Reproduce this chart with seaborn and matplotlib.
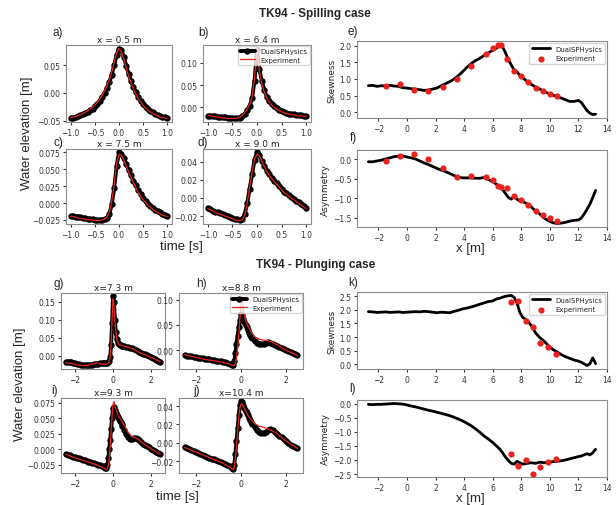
import numpy as np
import matplotlib
matplotlib.use('Agg')
import matplotlib.pyplot as plt
import seaborn as sns

# ---------------------------------------------------------------
# data
# ---------------------------------------------------------------
# spilling case, time series at 4 gauges
t_sp = np.round(np.arange(-1.0, 1.0001, 0.05), 2)

sph_a = [-0.045, -0.0445, -0.0435, -0.042, -0.040, -0.038, -0.036, -0.0335, -0.031, -0.028,
         -0.024, -0.0195, -0.014, -0.0075, 0.000, 0.009, 0.020, 0.033, 0.050, 0.068,
         0.080, 0.077, 0.065, 0.049, 0.034, 0.021, 0.010, 0.001, -0.007, -0.014,
         -0.020, -0.025, -0.029, -0.032, -0.035, -0.038, -0.040, -0.042, -0.043, -0.044, -0.045]
exp_a = [-0.044, -0.0435, -0.0425, -0.041, -0.039, -0.037, -0.035, -0.032, -0.029, -0.026,
         -0.022, -0.017, -0.011, -0.004, 0.004, 0.013, 0.024, 0.038, 0.055, 0.072,
         0.080, 0.074, 0.061, 0.045, 0.030, 0.018, 0.007, -0.002, -0.010, -0.016,
         -0.022, -0.027, -0.031, -0.034, -0.037, -0.039, -0.041, -0.043, -0.044, -0.045, -0.046]

sph_b = [-0.019, -0.019, -0.020, -0.020, -0.021, -0.021, -0.022, -0.022, -0.023, -0.023,
         -0.024, -0.024, -0.024, -0.023, -0.020, -0.015, -0.007, 0.003, 0.020, 0.060,
         0.128, 0.085, 0.058, 0.038, 0.024, 0.014, 0.007, 0.002, -0.002, -0.006,
         -0.009, -0.011, -0.013, -0.014, -0.015, -0.016, -0.017, -0.018, -0.018, -0.019, -0.020]
exp_b = [-0.018, -0.019, -0.020, -0.021, -0.022, -0.023, -0.024, -0.024, -0.025, -0.025,
         -0.025, -0.025, -0.024, -0.022, -0.018, -0.012, -0.004, 0.006, 0.024, 0.065,
         0.132, 0.080, 0.052, 0.034, 0.021, 0.012, 0.005, 0.000, -0.004, -0.007,
         -0.010, -0.012, -0.014, -0.015, -0.016, -0.017, -0.018, -0.019, -0.019, -0.020, -0.021]

sph_c = [-0.019, -0.019, -0.020, -0.020, -0.021, -0.022, -0.022, -0.023, -0.024, -0.024,
         -0.025, -0.025, -0.025, -0.025, -0.024, -0.022, -0.016, -0.002, 0.022, 0.055,
         0.075, 0.073, 0.066, 0.058, 0.049, 0.041, 0.033, 0.026, 0.019, 0.013,
         0.008, 0.003, -0.001, -0.004, -0.007, -0.010, -0.012, -0.014, -0.016, -0.018, -0.019]
exp_c = [-0.020, -0.020, -0.021, -0.022, -0.023, -0.023, -0.024, -0.025, -0.025, -0.025,
         -0.026, -0.026, -0.026, -0.025, -0.024, -0.021, -0.013, 0.003, 0.028, 0.058,
         0.072, 0.071, 0.064, 0.055, 0.046, 0.038, 0.030, 0.023, 0.016, 0.010,
         0.005, 0.001, -0.003, -0.006, -0.009, -0.012, -0.014, -0.016, -0.018, -0.019, -0.020]

sph_d = [-0.011, -0.0125, -0.014, -0.015, -0.016, -0.017, -0.018, -0.019, -0.020, -0.021,
         -0.022, -0.023, -0.0235, -0.024, -0.023, -0.018, -0.006, 0.010, 0.026, 0.042,
         0.050, 0.047, 0.041, 0.035, 0.030, 0.026, 0.022, 0.019, 0.016, 0.013,
         0.010, 0.007, 0.005, 0.003, 0.001, -0.001, -0.003, -0.005, -0.007, -0.009, -0.011]
exp_d = [-0.012, -0.013, -0.015, -0.016, -0.017, -0.018, -0.019, -0.020, -0.021, -0.022,
         -0.023, -0.024, -0.025, -0.025, -0.024, -0.019, -0.006, 0.012, 0.028, 0.043,
         0.048, 0.046, 0.040, 0.034, 0.029, 0.025, 0.021, 0.018, 0.015, 0.012,
         0.009, 0.006, 0.004, 0.002, 0.000, -0.002, -0.004, -0.006, -0.008, -0.010, -0.012]

# plunging case, time series at 4 gauges
t_pl = np.round(np.concatenate([np.arange(-2.5, -0.49, 0.1),
                                np.arange(-0.45, 0.46, 0.05),
                                np.arange(0.5, 2.51, 0.1)]), 2)
t_pl_exp = [-2.5, -2.2, -1.9, -1.6, -1.3, -1.0, -0.8, -0.6, -0.45, -0.35, -0.3, -0.25, -0.2,
            -0.15, -0.1, -0.05, 0.0, 0.05, 0.1, 0.2, 0.3, 0.45, 0.6, 0.8, 1.0, 1.2, 1.4,
            1.6, 1.8, 2.0, 2.25, 2.5]

sph_g = [-0.018, -0.017, -0.017, -0.018, -0.020, -0.022, -0.024, -0.025, -0.026, -0.027,
         -0.027, -0.027, -0.027, -0.026, -0.026, -0.025, -0.024, -0.023, -0.022, -0.022, -0.022,
         -0.022, -0.022, -0.021, -0.020, -0.018, -0.014, -0.005, 0.030, 0.090, 0.165,
         0.150, 0.100, 0.065, 0.045, 0.036, 0.031, 0.029, 0.028, 0.027,
         0.027, 0.026, 0.025, 0.023, 0.021, 0.020, 0.017, 0.015, 0.012, 0.009,
         0.007, 0.005, 0.003, 0.001, -0.001, -0.005, -0.008, -0.010, -0.013, -0.015, -0.017]
exp_g = [-0.020, -0.022, -0.026, -0.028, -0.027, -0.022, -0.021, -0.024, -0.025, -0.024,
         -0.023, -0.021, -0.016, -0.005, 0.030, 0.100, 0.158, 0.140, 0.095, 0.045, 0.031,
         0.028, 0.026, 0.023, 0.020, 0.014, 0.008, 0.004, 0.000, -0.005, -0.011, -0.017]

sph_h = [-0.010, -0.011, -0.012, -0.012, -0.013, -0.014, -0.015, -0.015, -0.016, -0.017,
         -0.018, -0.018, -0.019, -0.020, -0.021, -0.021, -0.022, -0.023, -0.024, -0.025, -0.026,
         -0.027, -0.028, -0.028, -0.022, -0.005, 0.012, 0.028, 0.045, 0.060, 0.072,
         0.070, 0.062, 0.055, 0.050, 0.045, 0.040, 0.035, 0.031, 0.027,
         0.024, 0.019, 0.015, 0.013, 0.012, 0.013, 0.015, 0.016, 0.015, 0.013,
         0.011, 0.008, 0.006, 0.004, 0.002, 0.000, -0.002, -0.004, -0.006, -0.008, -0.010]
exp_h = [-0.009, -0.012, -0.015, -0.018, -0.020, -0.022, -0.024, -0.026, -0.028, -0.030,
         -0.030, -0.026, -0.015, 0.005, 0.030, 0.060, 0.090, 0.106, 0.080, 0.060, 0.048,
         0.036, 0.027, 0.022, 0.020, 0.019, 0.016, 0.011, 0.005, 0.000, -0.005, -0.010]

sph_i = [-0.008, -0.009, -0.010, -0.011, -0.012, -0.013, -0.014, -0.015, -0.016, -0.017,
         -0.018, -0.019, -0.020, -0.021, -0.022, -0.023, -0.024, -0.025, -0.026, -0.027, -0.028,
         -0.029, -0.030, -0.030, -0.026, -0.015, 0.000, 0.015, 0.032, 0.050, 0.066,
         0.068, 0.063, 0.059, 0.055, 0.052, 0.049, 0.046, 0.043, 0.040,
         0.037, 0.031, 0.025, 0.020, 0.017, 0.017, 0.018, 0.018, 0.016, 0.014,
         0.011, 0.009, 0.007, 0.005, 0.003, 0.001, -0.001, -0.003, -0.005, -0.007, -0.008]
exp_i = [-0.008, -0.012, -0.015, -0.018, -0.021, -0.024, -0.026, -0.029, -0.031, -0.033,
         -0.032, -0.027, -0.015, 0.005, 0.028, 0.052, 0.072, 0.077, 0.070, 0.060, 0.053,
         0.046, 0.038, 0.027, 0.020, 0.018, 0.014, 0.009, 0.005, 0.001, -0.004, -0.008]

sph_j = [-0.005, -0.006, -0.007, -0.008, -0.009, -0.010, -0.011, -0.012, -0.013, -0.014,
         -0.015, -0.016, -0.017, -0.018, -0.019, -0.020, -0.021, -0.022, -0.023, -0.024, -0.025,
         -0.026, -0.027, -0.028, -0.024, -0.012, 0.002, 0.016, 0.030, 0.041, 0.045,
         0.044, 0.041, 0.038, 0.035, 0.032, 0.030, 0.027, 0.025, 0.023,
         0.021, 0.017, 0.014, 0.012, 0.011, 0.011, 0.012, 0.014, 0.015, 0.014,
         0.012, 0.010, 0.008, 0.006, 0.004, 0.002, 0.000, -0.002, -0.003, -0.005, -0.006]
exp_j = [-0.005, -0.008, -0.011, -0.014, -0.017, -0.020, -0.022, -0.025, -0.027, -0.029,
         -0.027, -0.017, -0.003, 0.012, 0.027, 0.038, 0.042, 0.042, 0.040, 0.035, 0.030,
         0.025, 0.021, 0.018, 0.017, 0.015, 0.013, 0.010, 0.006, 0.002, -0.002, -0.006]

# skewness / asymmetry along the flume
x_sim = [-2.7, -2.4, -2.1, -1.8, -1.5, -1.2, -0.9, -0.6, -0.3, 0.0, 0.3, 0.6, 0.9, 1.2, 1.5,
         1.8, 2.1, 2.4, 2.7, 3.0, 3.3, 3.6, 3.9, 4.2, 4.5, 4.8, 5.1, 5.4, 5.7, 6.0, 6.3, 6.5,
         6.7, 6.9, 7.1, 7.3, 7.5, 7.7, 7.9, 8.1, 8.4, 8.7, 9.0, 9.3, 9.6, 9.9, 10.2, 10.5,
         10.8, 11.1, 11.4, 11.7, 12.0, 12.2, 12.4, 12.6, 12.8, 13.0, 13.2]

skew_sp = [0.80, 0.81, 0.78, 0.80, 0.79, 0.81, 0.79, 0.78, 0.74, 0.73, 0.71, 0.70, 0.68, 0.66,
           0.67, 0.70, 0.73, 0.80, 0.86, 0.92, 1.00, 1.10, 1.22, 1.35, 1.46, 1.55, 1.62, 1.70,
           1.78, 1.86, 1.93, 2.02, 1.95, 1.78, 1.58, 1.42, 1.27, 1.22, 1.10, 1.04, 0.93, 0.84,
           0.76, 0.70, 0.63, 0.57, 0.52, 0.48, 0.43, 0.38, 0.33, 0.33, 0.36, 0.30, 0.18, 0.06,
           -0.02, -0.06, -0.05]
asym_sp = [-0.07, -0.07, -0.05, -0.03, 0.00, 0.03, 0.06, 0.07, 0.08, 0.05, 0.03, 0.00, -0.05,
           -0.10, -0.14, -0.19, -0.24, -0.28, -0.32, -0.37, -0.42, -0.46, -0.48, -0.48, -0.48,
           -0.49, -0.49, -0.47, -0.52, -0.58, -0.65, -0.70, -0.78, -0.88, -0.98, -1.02, -0.95,
           -1.02, -1.07, -1.08, -1.14, -1.22, -1.32, -1.40, -1.50, -1.57, -1.62, -1.64, -1.63,
           -1.61, -1.58, -1.56, -1.55, -1.50, -1.40, -1.28, -1.15, -0.98, -0.80]
skew_pl = [1.93, 1.92, 1.90, 1.91, 1.92, 1.90, 1.91, 1.92, 1.90, 1.91, 1.92, 1.93, 1.92, 1.94,
           1.93, 1.91, 1.89, 1.91, 1.90, 1.89, 1.94, 1.98, 2.03, 2.06, 2.10, 2.15, 2.20, 2.25,
           2.30, 2.32, 2.40, 2.42, 2.46, 2.49, 2.51, 2.52, 2.45, 2.25, 1.90, 1.72, 1.62, 1.42,
           1.15, 0.98, 0.85, 0.68, 0.55, 0.46, 0.36, 0.28, 0.22, 0.16, 0.12, 0.08, 0.02, -0.04,
           0.02, 0.24, 0.03]
asym_pl = [-0.03, -0.04, -0.03, -0.03, -0.02, -0.01, 0.00, -0.01, -0.02, -0.05, -0.09, -0.12,
           -0.16, -0.20, -0.24, -0.27, -0.31, -0.35, -0.39, -0.43, -0.49, -0.55, -0.62, -0.70,
           -0.79, -0.90, -1.02, -1.15, -1.26, -1.38, -1.52, -1.62, -1.75, -1.90, -2.02, -2.12,
           -2.15, -2.05, -2.10, -2.15, -2.12, -2.10, -2.12, -2.08, -2.10, -2.08, -2.06, -2.05,
           -2.03, -2.00, -1.96, -1.92, -1.88, -1.86, -1.82, -1.78, -1.82, -1.75, -1.62]

x_exp_sp = [-1.5, -0.5, 0.5, 1.5, 2.5, 3.5, 4.5, 5.5, 6.0, 6.4, 6.6, 7.0, 7.5, 8.0, 8.5, 9.0,
            9.5, 10.0, 10.5]
skew_exp_sp = [0.79, 0.84, 0.67, 0.65, 0.75, 1.01, 1.39, 1.75, 1.93, 2.03, 2.03, 1.60, 1.24,
               1.09, 0.90, 0.73, 0.63, 0.54, 0.49]
asym_exp_sp = [-0.06, 0.08, 0.14, 0.00, -0.23, -0.47, -0.44, -0.46, -0.53, -0.68, -0.70,
               -0.73, -0.93, -1.05, -1.17, -1.32, -1.42, -1.49, -1.57]
x_exp_pl = [7.3, 7.8, 8.35, 8.8, 9.3, 9.85, 10.45]
skew_exp_pl = [2.28, 2.32, 1.60, 1.36, 0.80, 0.62, 0.39]
asym_exp_pl = [-1.80, -2.22, -2.00, -2.48, -2.25, -2.06, -1.97]

titles_sp = ['x = 0.5 m', 'x = 6.4 m', 'x = 7.5 m', 'x = 9.0 m']
titles_pl = ['x=7.3 m', 'x=8.8 m', 'x=9.3 m', 'x=10.4 m']

# ---------------------------------------------------------------
# figure
# ---------------------------------------------------------------
sns.set_style('ticks')
plt.rcParams['font.family'] = ['DejaVu Sans']
plt.rcParams['axes.edgecolor'] = '0.55'
plt.rcParams['axes.linewidth'] = 0.8
plt.rcParams['xtick.labelsize'] = 5.5
plt.rcParams['ytick.labelsize'] = 5.5
plt.rcParams['xtick.color'] = '0.2'
plt.rcParams['ytick.color'] = '0.2'
plt.rcParams['xtick.major.size'] = 2.5
plt.rcParams['ytick.major.size'] = 2.5
plt.rcParams['xtick.major.pad'] = 1.5
plt.rcParams['ytick.major.pad'] = 1.5

W, H = 616, 506
fig = plt.figure(figsize=(W / 100, H / 100), dpi=100)


def px_axes(l, t, r, b):
    return fig.add_axes([l / W, 1 - b / H, (r - l) / W, (b - t) / H])


RED = '#e8221e'
ARIAL = 'Liberation Sans'


def time_panel(ax, t, sph, t_e, ex, title, legend=False):
    sns.lineplot(x=t, y=sph, ax=ax, color='k', lw=2.8, marker='o', markersize=4.6,
                 markeredgewidth=0, label='DualSPHysics' if legend else None)
    sns.lineplot(x=t_e, y=ex, ax=ax, color=RED, lw=0.9,
                 label='Experiment' if legend else None)
    ax.set_title(title, fontsize=6.5, pad=2.5)
    ax.set_xlabel('')
    ax.set_ylabel('')
    if legend:
        ax.legend(loc='upper right', fontsize=5, frameon=True, borderpad=0.3,
                  handlelength=2.2, labelspacing=0.3, borderaxespad=0.2, fancybox=True)
    elif ax.get_legend() is not None:
        ax.get_legend().remove()


def x_panel(ax, y_sim, x_e, y_e, ylabel, yticks, legend=False):
    sns.lineplot(x=x_sim, y=y_sim, ax=ax, color='k', lw=2.0,
                 label='DualSPHysics' if legend else None)
    sns.scatterplot(x=x_e, y=y_e, ax=ax, color=RED, s=20, linewidth=0, zorder=3,
                    label='Experiment' if legend else None)
    ax.set_xticks([-2, 0, 2, 4, 6, 8, 10, 12, 14])
    ax.set_yticks(yticks)
    ax.set_ylabel(ylabel, fontsize=6.5, labelpad=2)
    ax.set_xlabel('')
    if legend:
        ax.legend(loc='upper right', fontsize=5, frameon=True, borderpad=0.4,
                  handlelength=2.5, labelspacing=0.5, borderaxespad=0.3)
    elif ax.get_legend() is not None:
        ax.get_legend().remove()


# spilling case
ax_a = px_axes(66, 46, 172, 123)
ax_b = px_axes(203, 46, 311, 123)
ax_c = px_axes(66, 150, 172, 225)
ax_d = px_axes(203, 150, 311, 225)
time_panel(ax_a, t_sp, sph_a, t_sp, exp_a, titles_sp[0])
time_panel(ax_b, t_sp, sph_b, t_sp, exp_b, titles_sp[1], legend=True)
time_panel(ax_c, t_sp, sph_c, t_sp, exp_c, titles_sp[2])
time_panel(ax_d, t_sp, sph_d, t_sp, exp_d, titles_sp[3])
ax_a.set_yticks([-0.05, 0.0, 0.05])
ax_b.set_yticks([0.0, 0.05, 0.10])
ax_c.set_yticks([-0.025, 0.0, 0.025, 0.050, 0.075])
ax_d.set_yticks([-0.02, 0.0, 0.02, 0.04])
for ax in (ax_a, ax_b, ax_c, ax_d):
    ax.set_xticks([-1.0, -0.5, 0.0, 0.5, 1.0])

ax_e = px_axes(357, 42, 607, 119)
ax_f = px_axes(357, 151, 607, 228)
x_panel(ax_e, skew_sp, x_exp_sp, skew_exp_sp, 'Skewness', [0.0, 0.5, 1.0, 1.5, 2.0], legend=True)
x_panel(ax_f, asym_sp, x_exp_sp, asym_exp_sp, 'Asymmetry', [-1.5, -1.0, -0.5, 0.0])

# plunging case
ax_g = px_axes(61, 294, 165, 370)
ax_h = px_axes(179, 294, 303, 370)
ax_i = px_axes(61, 399, 165, 474)
ax_j = px_axes(179, 399, 303, 474)
time_panel(ax_g, t_pl, sph_g, t_pl_exp, exp_g, titles_pl[0])
time_panel(ax_h, t_pl, sph_h, t_pl_exp, exp_h, titles_pl[1], legend=True)
time_panel(ax_i, t_pl, sph_i, t_pl_exp, exp_i, titles_pl[2])
time_panel(ax_j, t_pl, sph_j, t_pl_exp, exp_j, titles_pl[3])
ax_g.set_yticks([0.0, 0.05, 0.10, 0.15])
ax_h.set_yticks([0.0, 0.05, 0.10])
ax_i.set_yticks([-0.025, 0.0, 0.025, 0.050, 0.075])
ax_j.set_yticks([-0.02, 0.0, 0.02, 0.04])
for ax in (ax_g, ax_h, ax_i, ax_j):
    ax.set_xticks([-2, 0, 2])

ax_k = px_axes(357, 293, 607, 370)
ax_l = px_axes(357, 401, 607, 478)
x_panel(ax_k, skew_pl, x_exp_pl, skew_exp_pl, 'Skewness', [0.0, 0.5, 1.0, 1.5, 2.0, 2.5], legend=True)
x_panel(ax_l, asym_pl, x_exp_pl, asym_exp_pl, 'Asymmetry', [-2.5, -2.0, -1.5, -1.0, -0.5, 0.0])

# panel letters
letters = [('a)', 58, 33), ('b)', 204, 33), ('c)', 58, 143), ('d)', 203, 143),
           ('e)', 353, 32), ('f)', 353, 138), ('g)', 59, 284), ('h)', 201, 284),
           ('i)', 55, 391), ('j)', 197, 391), ('k)', 353, 283), ('l)', 353, 389)]
for txt, xp, yp in letters:
    fig.text(xp / W, 1 - yp / H, txt, fontsize=8.5, family=ARIAL, ha='center', va='center')

# shared labels and headings
fig.text(315 / W, 1 - 14 / H, 'TK94 - Spilling case', fontsize=8.5, weight='bold',
         family=ARIAL, ha='center', va='center')
fig.text(316 / W, 1 - 265 / H, 'TK94 - Plunging case', fontsize=8.5, weight='bold',
         family=ARIAL, ha='center', va='center')
fig.text(27 / W, 1 - 133 / H, 'Water elevation [m]', fontsize=9.5, family=ARIAL,
         rotation=90, ha='center', va='center')
fig.text(20 / W, 1 - 384 / H, 'Water elevation [m]', fontsize=9.5, family=ARIAL,
         rotation=90, ha='center', va='center')
fig.text(181 / W, 1 - 247 / H, 'time [s]', fontsize=9.5, family=ARIAL, ha='center', va='center')
fig.text(177 / W, 1 - 497 / H, 'time [s]', fontsize=9.5, family=ARIAL, ha='center', va='center')
fig.text(470 / W, 1 - 249 / H, 'x [m]', fontsize=9.5, family=ARIAL, ha='center', va='center')
fig.text(470 / W, 1 - 499 / H, 'x [m]', fontsize=9.5, family=ARIAL, ha='center', va='center')

fig.savefig('out.png', dpi=100)
